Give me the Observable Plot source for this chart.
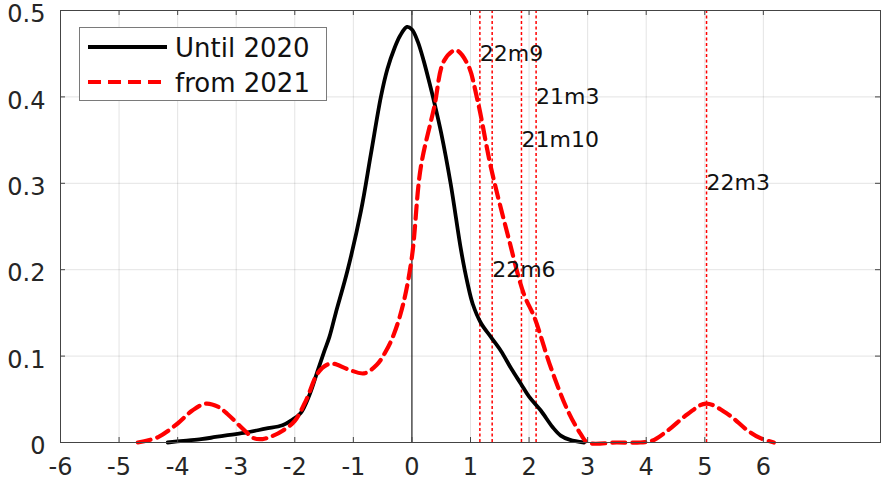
<!DOCTYPE html>
<html>
<head>
<meta charset="utf-8">
<script src="https://cdn.jsdelivr.net/npm/d3@7"></script>
<script src="https://cdn.jsdelivr.net/npm/@observablehq/plot@0.6"></script>
<style>
  html, body { margin: 0; padding: 0; background: #fff; }
  #wrap { position: relative; width: 882px; height: 485px; font-family: "DejaVu Sans", sans-serif; }
  #legend { position: absolute; left: 79px; top: 27px; width: 246px; height: 72px; border: 1px solid #7a7a7a; background: #fff; }
</style>
</head>
<body>
<div id="wrap"></div>
<script>
// ---- data ----
const seriesNames = ["Until 2020", "from 2021"];

const untilX = [-4.17, -3.9, -3.6, -3.43, -3.2, -2.87, -2.5, -2.21, -2.05, -1.9, -1.75, -1.61, -1.5, -1.41, -1.3, -1.1, -0.87, -0.7, -0.53, -0.42, -0.3, -0.2, -0.085, 0.0, 0.1, 0.2, 0.3, 0.38, 0.5, 0.66, 0.84, 0.95, 1.04, 1.18, 1.35, 1.52, 1.7, 1.86, 2.0, 2.2, 2.4, 2.54, 2.7, 2.94];
const untilY = [0, 0.002, 0.004, 0.0055, 0.008, 0.011, 0.016, 0.02, 0.026, 0.034, 0.055, 0.083, 0.105, 0.122, 0.15, 0.199, 0.268, 0.334, 0.40, 0.432, 0.456, 0.471, 0.481, 0.478, 0.464, 0.442, 0.416, 0.394, 0.358, 0.30, 0.222, 0.184, 0.16, 0.138, 0.122, 0.106, 0.085, 0.068, 0.053, 0.037, 0.018, 0.008, 0.003, 0];

const fromX = [-4.68, -4.34, -4.0, -3.75, -3.52, -3.3, -3.15, -2.86, -2.7, -2.55, -2.4, -2.2, -2.0, -1.8, -1.61, -1.45, -1.33, -1.1, -0.82, -0.6, -0.45, -0.31, -0.15, 0.0, 0.15, 0.38, 0.55, 0.75, 0.95, 1.12, 1.35, 1.63, 1.91, 2.09, 2.37, 2.66, 2.88, 3.0, 3.5, 3.9, 4.1, 4.37, 4.71, 5.02, 5.39, 5.73, 5.95, 6.18];
const fromY = [0, 0.006, 0.022, 0.037, 0.045, 0.041, 0.033, 0.014, 0.005, 0.004, 0.007, 0.014, 0.025, 0.05, 0.08, 0.09, 0.091, 0.085, 0.08, 0.09, 0.105, 0.125, 0.16, 0.215, 0.318, 0.388, 0.442, 0.454, 0.438, 0.396, 0.318, 0.242, 0.172, 0.145, 0.087, 0.037, 0.01, 0, 0, 0, 0.002, 0.014, 0.033, 0.045, 0.033, 0.014, 0.005, 0];

const eventLabels = ["22m9", "22m6", "21m10", "21m3", "22m3"];
const eventX = [1.16, 1.37, 1.87, 2.12, 5.03];
const eventLabelY = [0.45, 0.2, 0.35, 0.4, 0.3];

const xTicks = [-6, -5, -4, -3, -2, -1, 0, 1, 2, 3, 4, 5, 6];
const yTicks = [0, 0.1, 0.2, 0.3, 0.4, 0.5];
const yTickLabels = ["0", "0.1", "0.2", "0.3", "0.4", "0.5"];

// ---- build tables ----
const untilData = untilX.map((x, i) => ({x, y: untilY[i]}));
const fromData = fromX.map((x, i) => ({x, y: fromY[i]}));
const events = eventLabels.map((t, i) => ({t, x: eventX[i], y: eventLabelY[i]}));

const W = 882, H = 485, mL = 60, mR = 2, mT = 10, mB = 43;
const pw = W - mL - mR, ph = H - mT - mB;
const font = "DejaVu Sans, sans-serif";
const axisColor = "#444";

const chart = Plot.plot({
  width: W, height: H,
  marginLeft: mL, marginRight: mR, marginTop: mT, marginBottom: mB,
  style: {fontFamily: font, background: "#fff", color: "#262626"},
  x: {domain: [-6, 8], label: null},
  y: {domain: [0, 0.5], label: null},
  marks: [
    Plot.gridX(xTicks, {stroke: "#000", strokeOpacity: 0.11}),
    Plot.gridY(yTicks, {stroke: "#000", strokeOpacity: 0.11}),
    Plot.ruleX([0], {stroke: "#000", strokeWidth: 1}),
    Plot.ruleX(eventX, {stroke: "#ff0000", strokeWidth: 1.5, strokeDasharray: "3,2.5"}),
    Plot.line(untilData, {x: "x", y: "y", stroke: "#000", strokeWidth: 3.8, curve: "catmull-rom"}),
    Plot.line(fromData, {x: "x", y: "y", stroke: "#ff0000", strokeWidth: 4.2, strokeDasharray: "13,7", curve: "catmull-rom"}),
    Plot.text(events, {x: "x", y: "y", text: "t", textAnchor: "start", fontSize: 22, fill: "#111", fontFamily: font}),
    Plot.frame({stroke: axisColor, strokeWidth: 1}),
    Plot.tickX(xTicks, {x: d => d, stroke: axisColor, insetTop: ph - 5}),
    Plot.tickX(xTicks, {x: d => d, stroke: axisColor, insetBottom: ph - 5}),
    Plot.tickY(yTicks, {y: d => d, stroke: axisColor, insetLeft: pw - 5}),
    Plot.tickY(yTicks, {y: d => d, stroke: axisColor, insetRight: pw - 5}),
    Plot.axisX(xTicks, {tickSize: 0, tickPadding: 15, fontSize: 24, label: null, tickFormat: d => d < 0 ? "-" + Math.abs(d) : String(d), fill: "#262626"}),
    Plot.axisY(yTicks, {tickSize: 0, tickPadding: 15, dy: 4, fontSize: 24, label: null, tickFormat: d => yTickLabels[yTicks.indexOf(d)], fill: "#262626"})
  ]
});

const wrap = document.getElementById("wrap");
wrap.appendChild(chart);

// legend (inside plot area, like MATLAB)
const legend = document.createElement("div");
legend.id = "legend";
const ns = "http://www.w3.org/2000/svg";
const lsvg = document.createElementNS(ns, "svg");
lsvg.setAttribute("width", 246);
lsvg.setAttribute("height", 72);
const legendItems = [
  {name: seriesNames[0], stroke: "#000", dash: null, w: 3.8},
  {name: seriesNames[1], stroke: "#ff0000", dash: "13,7", w: 4.2}
];
legendItems.forEach((it, i) => {
  const cy = 19 + i * 35;
  const ln = document.createElementNS(ns, "line");
  ln.setAttribute("x1", 8); ln.setAttribute("x2", 87);
  ln.setAttribute("y1", cy); ln.setAttribute("y2", cy);
  ln.setAttribute("stroke", it.stroke);
  ln.setAttribute("stroke-width", it.w);
  if (it.dash) ln.setAttribute("stroke-dasharray", it.dash);
  lsvg.appendChild(ln);
  const tx = document.createElementNS(ns, "text");
  tx.setAttribute("x", 95);
  tx.setAttribute("y", cy + 10);
  tx.setAttribute("font-size", 26);
  tx.setAttribute("font-family", font);
  tx.setAttribute("fill", "#111");
  tx.textContent = it.name;
  lsvg.appendChild(tx);
});
legend.appendChild(lsvg);
wrap.appendChild(legend);
</script>
</body>
</html>
